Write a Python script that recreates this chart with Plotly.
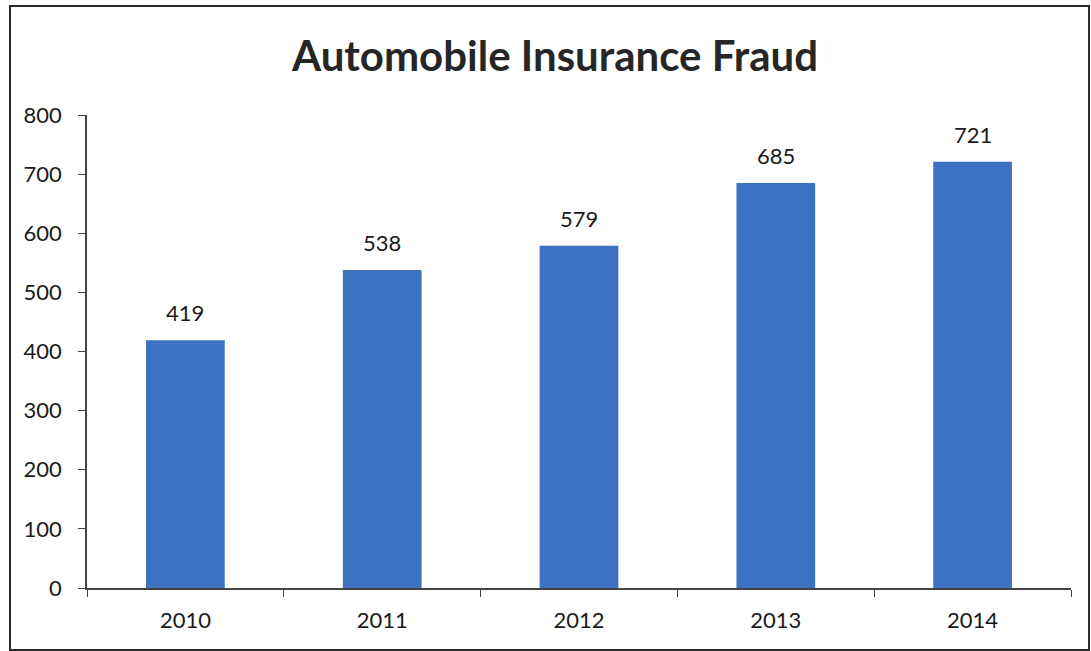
import plotly.graph_objects as go

years = ["2010", "2011", "2012", "2013", "2014"]
fraud_cases = [419, 538, 579, 685, 721]
y_ticks = [0, 100, 200, 300, 400, 500, 600, 700, 800]

W, H = 1091, 651
ML, MR, MT, MB = 87, 20, 115, 63
FONT = "Lato, 'Open Sans', sans-serif"
BAR_BLUE = "#3d72c2"
TEXT = "#1a1a1a"

fig = go.Figure(
    go.Bar(
        x=years,
        y=fraud_cases,
        marker=dict(color=BAR_BLUE, line=dict(width=0)),
        width=0.4,
        hoverinfo="x+y",
    )
)

# value labels sitting a little above each bar (category index as x position)
for i, v in enumerate(fraud_cases):
    fig.add_annotation(
        x=i, y=v, xref="x", yref="y",
        text=str(v), showarrow=False,
        yanchor="bottom", yshift=12,
        font=dict(family=FONT, size=22, color=TEXT),
    )

# outer frame around the whole chart, expressed in paper coordinates
pw, ph = W - ML - MR, H - MT - MB
def px_x(p):
    return (p - ML) / pw
def px_y(p):
    return (H - MB - p) / ph

fig.add_shape(
    type="rect", xref="paper", yref="paper",
    x0=px_x(10), x1=px_x(1089), y0=px_y(650), y1=px_y(6),
    line=dict(color="#2a2a2a", width=2),
)

fig.update_layout(
    width=W, height=H,
    margin=dict(l=ML, r=MR, t=MT, b=MB),
    paper_bgcolor="white", plot_bgcolor="white",
    showlegend=False,
    title=dict(
        text="<b>Automobile Insurance Fraud</b>",
        x=px_x(555), xref="paper", xanchor="center",
        y=1 - 56 / H, yanchor="middle",
        font=dict(family=FONT, size=42, color="#262626"),
    ),
    font=dict(family=FONT, color=TEXT),
)

fig.update_xaxes(
    type="category",
    range=[-0.5, len(years) - 0.5],
    showline=True, linecolor="#444444", linewidth=1.5,
    ticks="outside", tickson="boundaries", ticklen=7, tickcolor="#444444",
    ticklabelstandoff=12,
    tickfont=dict(family=FONT, size=22, color=TEXT),
    showgrid=False, zeroline=False,
)
fig.update_yaxes(
    range=[0, 800],
    tickvals=y_ticks,
    showline=True, linecolor="#444444", linewidth=1.5,
    ticks="outside", ticklen=7, tickcolor="#444444",
    ticklabelstandoff=12,
    tickfont=dict(family=FONT, size=22, color=TEXT),
    showgrid=False, zeroline=False,
)

fig.write_html("out.html")
